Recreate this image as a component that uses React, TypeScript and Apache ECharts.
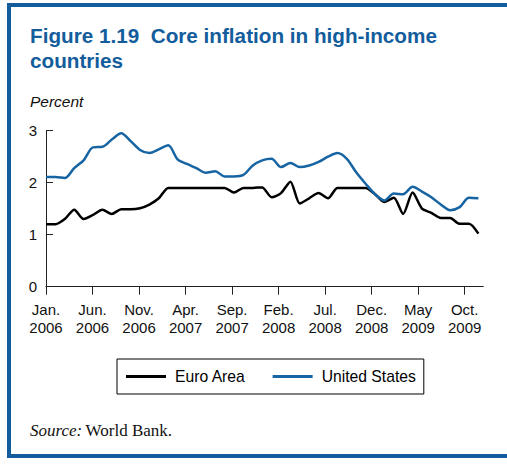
import React, { useEffect, useRef } from "react";
import * as echarts from "echarts";

const monthAbbr = ["Jan.", "Feb.", "Mar.", "Apr.", "May", "Jun.", "Jul.", "Aug.", "Sep.", "Oct.", "Nov.", "Dec."];
const years = [2006, 2007, 2008, 2009];

// Jan 2006 .. Nov 2009 (47 monthly observations)
const euroArea = [
  1.2, 1.2, 1.3, 1.48, 1.3, 1.38, 1.48, 1.4, 1.49, 1.49,
  1.51, 1.58, 1.7, 1.9, 1.9, 1.9, 1.9, 1.9, 1.9, 1.9,
  1.81, 1.9, 1.9, 1.91, 1.72, 1.8, 2.02, 1.6, 1.7, 1.8,
  1.7, 1.9, 1.9, 1.9, 1.9, 1.78, 1.63, 1.71, 1.4, 1.81,
  1.5, 1.42, 1.32, 1.32, 1.21, 1.21, 1.02,
];
const unitedStates = [
  2.11, 2.11, 2.09, 2.28, 2.43, 2.68, 2.69, 2.83, 2.95, 2.8,
  2.63, 2.57, 2.64, 2.72, 2.45, 2.36, 2.28, 2.19, 2.22, 2.12,
  2.12, 2.15, 2.33, 2.43, 2.46, 2.3, 2.38, 2.3, 2.33, 2.4,
  2.5, 2.57, 2.46, 2.2, 1.98, 1.78, 1.66, 1.79, 1.78, 1.92,
  1.83, 1.72, 1.58, 1.47, 1.53, 1.71, 1.7,
];

const axisMonths: string[] = [];
years.forEach((y) => monthAbbr.forEach((m) => axisMonths.push(m + "\n" + y)));
const dataMonths = axisMonths.slice(0, euroArea.length);

const BLUE = "#135d9c";
const SANS = "'Liberation Sans', Arial, Helvetica, sans-serif";
const SERIF = "'Liberation Serif', 'Times New Roman', serif";

export default function App() {
  const ref = useRef<HTMLDivElement>(null);
  useEffect(() => {
    if (!ref.current) return;
    const chart = echarts.init(ref.current, null, { renderer: "svg" });
    const top = 130.7;
    const height = 156;
    chart.setOption({
      animation: false,
      backgroundColor: "#ffffff",
      title: {
        text: "Figure 1.19  Core inflation in high-income\ncountries",
        left: 30,
        top: 23,
        padding: 0,
        textStyle: { fontFamily: SANS, fontSize: 20.7, fontWeight: "bold", color: BLUE, lineHeight: 25 },
      },
      legend: {
        data: ["Euro Area", "United States"],
        left: 117,
        top: 359,
        orient: "horizontal",
        padding: [9, 8, 9, 9],
        borderColor: "#000",
        borderWidth: 1,
        itemWidth: 40,
        itemHeight: 3,
        itemGap: 27,
        icon: "rect",
        textStyle: { fontFamily: SANS, fontSize: 15.7, color: "#000", lineHeight: 17, padding: [0, 0, 0, 4] },
      },
      grid: [
        { left: 46, top, width: 432.4, height, containLabel: false },
        { left: 46, top, width: 437.3, height, containLabel: false },
      ],
      xAxis: [
        { type: "category", gridIndex: 0, data: dataMonths, boundaryGap: false, show: false },
        {
          type: "category",
          gridIndex: 1,
          data: axisMonths,
          boundaryGap: false,
          axisLine: { lineStyle: { color: "#222", width: 1 } },
          axisTick: { interval: 4, length: 8, lineStyle: { color: "#222" } },
          axisLabel: {
            interval: 4,
            margin: 14,
            fontFamily: SANS,
            fontSize: 15,
            color: "#111",
            lineHeight: 18,
            align: "center",
          },
          splitLine: { show: false },
        },
      ],
      yAxis: [
        { type: "value", gridIndex: 0, min: 0, max: 3, interval: 1, show: false },
        {
          type: "value",
          gridIndex: 1,
          min: 0,
          max: 3,
          interval: 1,
          axisLine: { show: true, lineStyle: { color: "#222", width: 1 } },
          axisTick: { show: true, inside: true, length: 7, lineStyle: { color: "#222" } },
          axisLabel: { margin: 9, fontFamily: SANS, fontSize: 15, color: "#111" },
          splitLine: { show: false },
        },
      ],
      series: [
        {
          name: "Euro Area",
          type: "line",
          xAxisIndex: 0,
          yAxisIndex: 0,
          data: euroArea,
          smooth: 0.25,
          showSymbol: false,
          symbol: "none",
          lineStyle: { color: "#000", width: 2.5 },
          itemStyle: { color: "#000" },
          z: 3,
        },
        {
          name: "United States",
          type: "line",
          xAxisIndex: 0,
          yAxisIndex: 0,
          data: unitedStates,
          smooth: 0.3,
          showSymbol: false,
          symbol: "none",
          lineStyle: { color: "#1764a3", width: 2.5 },
          itemStyle: { color: "#1764a3" },
          z: 4,
        },
      ],
      graphic: [
        { type: "rect", shape: { x: 7, y: 3, width: 4, height: 455 }, style: { fill: BLUE } },
        { type: "rect", shape: { x: 7, y: 3, width: 500, height: 4 }, style: { fill: BLUE } },
        { type: "rect", shape: { x: 7, y: 454, width: 500, height: 4 }, style: { fill: BLUE } },
        {
          type: "text",
          x: 30,
          y: 101.5,
          style: { text: "Percent", font: "italic 15.5px " + SANS, fill: "#111", textVerticalAlign: "middle" },
        },
        {
          type: "text",
          x: 30,
          y: 430,
          style: {
            text: "{i|Source:} {r|World Bank.}",
            textVerticalAlign: "middle",
            rich: {
              i: { fontFamily: SERIF, fontStyle: "italic", fontSize: 17, fill: "#111" },
              r: { fontFamily: SERIF, fontSize: 17, fill: "#111" },
            },
          },
        },
      ],
    });
    return () => chart.dispose();
  }, []);
  return <div ref={ref} style={{ position: "fixed", left: 0, top: 0, width: 507, height: 464 }} />;
}
